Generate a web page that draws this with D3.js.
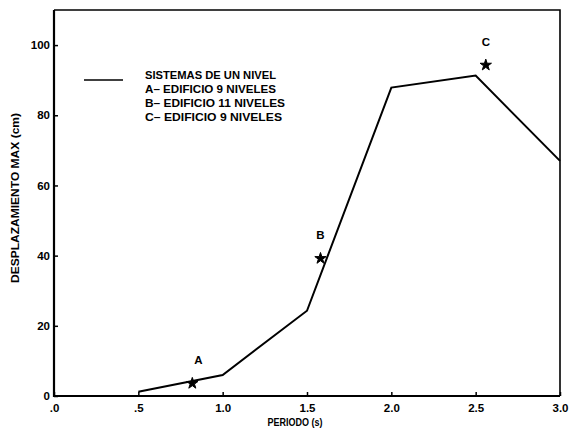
<!DOCTYPE html>
<html><head><meta charset="utf-8">
<script src="https://cdn.jsdelivr.net/npm/d3@7"></script>
<style>body{margin:0;background:#fff}svg{display:block}text{font-family:"Liberation Sans",Arial,sans-serif;font-weight:bold;fill:#000}</style>
</head><body>
<svg id="c" width="571" height="431"></svg>
<script>
const periodos = [0.5, 1.0, 1.5, 2.0, 2.5, 3.0];
const desplazamientos = [1.2, 6.0, 24.3, 87.9, 91.3, 67.0];
const puntoNombres = ["A", "B", "C"];
const puntoPeriodos = [0.82, 1.58, 2.56];
const puntoDesplaz = [3.6, 39.2, 94.3];
const xTicks = [0, 0.5, 1.0, 1.5, 2.0, 2.5, 3.0];
const xTickLabels = [".0", ".5", "1.0", "1.5", "2.0", "2.5", "3.0"];
const yTicks = [0, 20, 40, 60, 80, 100];
const legendItems = ["SISTEMAS DE UN NIVEL", "A\u2013 EDIFICIO 9 NIVELES", "B\u2013 EDIFICIO 11 NIVELES", "C\u2013 EDIFICIO 9 NIVELES"];
const legendWidths = [131, 131, 140, 137];

const svg = d3.select("#c");
const L = 54, R = 560, T = 10, B = 396;
const x = d3.scaleLinear().domain([0, 3]).range([L, R]);
const y = d3.scaleLinear().domain([0, 110]).range([B, T]);

// frame
svg.append("path").attr("d", `M${L},${T}H${R}V${B}`).attr("fill","none").attr("stroke","#000").attr("stroke-width",1.6);
svg.append("path").attr("d", `M${L},${T}V${B}H${R}`).attr("fill","none").attr("stroke","#000").attr("stroke-width",2.2);

// axes (ticks inward)
const xAxis = d3.axisBottom(x).tickValues(xTicks).tickSizeInner(-4).tickSizeOuter(0).tickPadding(8)
  .tickFormat((d,i) => xTickLabels[i]);
const gx = svg.append("g").attr("transform", `translate(0,${B})`).call(xAxis);
gx.select(".domain").remove();
gx.selectAll("line").attr("stroke-width",1.5);
gx.selectAll("text").style("font-size","11.5px").style("font-family",'"Liberation Sans",Arial,sans-serif').style("font-weight","bold");

const yAxis = d3.axisLeft(y).tickValues(yTicks).tickSizeInner(-4).tickSizeOuter(0).tickPadding(4);
const gy = svg.append("g").attr("transform", `translate(${L},0)`).call(yAxis);
gy.select(".domain").remove();
gy.selectAll("line").attr("stroke-width",1.5);
gy.selectAll("text").style("font-size","11.5px").style("font-family",'"Liberation Sans",Arial,sans-serif').style("font-weight","bold");

// axis titles
svg.append("text").attr("x", 295).attr("y", 426).attr("text-anchor","middle").style("font-size","11.5px")
  .attr("textLength",55).attr("lengthAdjust","spacingAndGlyphs").text("PERIODO (s)");
svg.append("text").attr("transform","translate(19,198) rotate(-90)").attr("text-anchor","middle").style("font-size","11.5px")
  .attr("textLength",170).attr("lengthAdjust","spacingAndGlyphs").text("DESPLAZAMIENTO MAX (cm)");

// line
const line = d3.line().x(d => x(d[0])).y(d => y(d[1]));
svg.append("path").datum(d3.zip(periodos, desplazamientos)).attr("d", line)
  .attr("fill","none").attr("stroke","#000").attr("stroke-width",2).attr("stroke-linejoin","miter");

// points
const star = d3.symbol().type(d3.symbolStar).size(40);
puntoNombres.forEach((n, i) => {
  svg.append("path").attr("d", star).attr("transform", `translate(${x(puntoPeriodos[i])},${y(puntoDesplaz[i])})`)
    .attr("fill","#000").attr("stroke","#000").attr("stroke-width",1);
  svg.append("text").attr("x", x(puntoPeriodos[i]) + (i===0?6:0)).attr("y", y(puntoDesplaz[i]) - 19)
    .attr("text-anchor","middle").style("font-size","11.5px").text(n);
});

// legend
svg.append("line").attr("x1",84).attr("x2",123).attr("y1",80).attr("y2",80).attr("stroke","#000").attr("stroke-width",1.5);
legendItems.forEach((t, i) => {
  svg.append("text").attr("x",145).attr("y", 79 + i*14).style("font-size","11.5px")
    .attr("textLength", legendWidths[i]).attr("lengthAdjust","spacingAndGlyphs").text(t);
});
</script>
</body></html>
